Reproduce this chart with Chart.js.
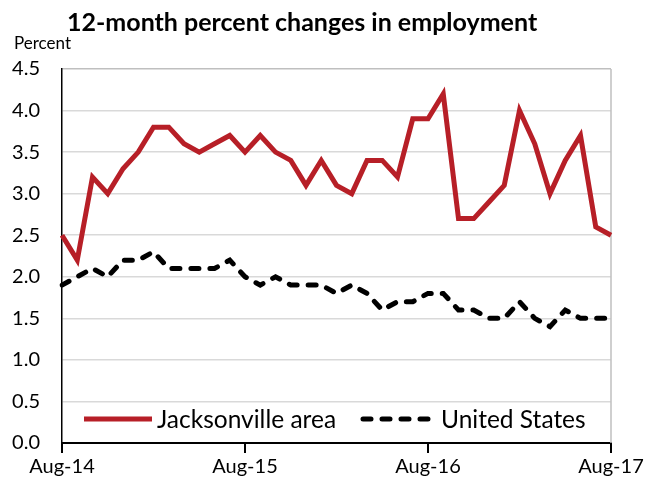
<!DOCTYPE html>
<html>
<head>
<meta charset="utf-8">
<script src="https://cdn.jsdelivr.net/npm/chart.js@4"></script>
<style>
    html, body { margin: 0; padding: 0; background: #fff; }
    #wrap { width: 647px; height: 479px; }
</style>
</head>
<body>
<div id="wrap"><canvas id="empChart" width="647" height="479"></canvas></div>
<script>
const months = [
    'Aug-14', 'Sep-14', 'Oct-14', 'Nov-14', 'Dec-14',
    'Jan-15', 'Feb-15', 'Mar-15', 'Apr-15', 'May-15', 'Jun-15', 'Jul-15', 'Aug-15', 'Sep-15', 'Oct-15', 'Nov-15', 'Dec-15',
    'Jan-16', 'Feb-16', 'Mar-16', 'Apr-16', 'May-16', 'Jun-16', 'Jul-16', 'Aug-16', 'Sep-16', 'Oct-16', 'Nov-16', 'Dec-16',
    'Jan-17', 'Feb-17', 'Mar-17', 'Apr-17', 'May-17', 'Jun-17', 'Jul-17', 'Aug-17'
];
const jacksonville = [
    2.5, 2.2, 3.2, 3.0, 3.3,
    3.5, 3.8, 3.8, 3.6, 3.5, 3.6, 3.7, 3.5, 3.7, 3.5, 3.4, 3.1,
    3.4, 3.1, 3.0, 3.4, 3.4, 3.2, 3.9, 3.9, 4.2, 2.7, 2.7, 2.9,
    3.1, 4.0, 3.6, 3.0, 3.4, 3.7, 2.6, 2.5
];
const unitedStates = [
    1.9, 2.0, 2.1, 2.0, 2.2,
    2.2, 2.3, 2.1, 2.1, 2.1, 2.1, 2.2, 2.0, 1.9, 2.0, 1.9, 1.9,
    1.9, 1.8, 1.9, 1.8, 1.6, 1.7, 1.7, 1.8, 1.8, 1.6, 1.6, 1.5,
    1.5, 1.7, 1.5, 1.4, 1.6, 1.5, 1.5, 1.5
];
const yTicks = [0, 0.5, 1.0, 1.5, 2.0, 2.5, 3.0, 3.5, 4.0, 4.5];

const FONT = 'Lato, "Open Sans", sans-serif';
const RED = '#b71f27';

// title, "Percent" label, right border and the in-plot legend
const decor = {
    id: 'decor',
    beforeDatasetsDraw(chart) {
        const { ctx, chartArea } = chart;
        ctx.save();
        ctx.strokeStyle = '#bfbfbf';
        ctx.lineWidth = 1.5;
        ctx.beginPath();
        ctx.moveTo(chartArea.right, chartArea.top);
        ctx.lineTo(chartArea.right, chartArea.bottom);
        ctx.stroke();
        ctx.restore();
    },
    afterDraw(chart) {
        const { ctx, chartArea } = chart;
        ctx.save();
        ctx.fillStyle = '#000';
        ctx.textBaseline = 'alphabetic';
        ctx.textAlign = 'left';
        ctx.font = 'bold 25px ' + FONT;
        ctx.fillText('12-month percent changes in employment', 67, 31);
        ctx.font = '17px ' + FONT;
        ctx.fillText('Percent', 14, 49);

        // legend
        const y = chartArea.bottom - 24;
        const items = [
            { ds: chart.data.datasets[0], x0: 84, x1: 152, tx: 157 },
            { ds: chart.data.datasets[1], x0: 363, x1: 433, tx: 441 }
        ];
        ctx.font = '24.5px ' + FONT;
        ctx.textBaseline = 'middle';
        items.forEach(it => {
            ctx.strokeStyle = it.ds.borderColor;
            ctx.lineWidth = it.ds.borderWidth;
            ctx.lineCap = it.ds.borderCapStyle || 'butt';
            ctx.setLineDash(it.ds.borderDash || []);
            ctx.beginPath();
            ctx.moveTo(it.x0, y);
            ctx.lineTo(it.x1, y);
            ctx.stroke();
            ctx.setLineDash([]);
            ctx.fillText(it.ds.label, it.tx, y + 1);
        });
        ctx.restore();
    }
};

new Chart(document.getElementById('empChart'), {
    type: 'line',
    data: {
        labels: months,
        datasets: [{
            label: 'Jacksonville area',
            data: jacksonville,
            borderColor: RED,
            borderWidth: 5,
            borderCapStyle: 'butt',
            pointRadius: 0,
            tension: 0
        }, {
            label: 'United States',
            data: unitedStates,
            borderColor: '#000',
            borderWidth: 5,
            borderDash: [8, 11],
            borderCapStyle: 'round',
            pointRadius: 0,
            tension: 0
        }]
    },
    options: {
        responsive: false,
        animation: false,
        layout: { padding: { top: 69, right: 36, left: 0, bottom: 0 } },
        plugins: {
            legend: { display: false },
            tooltip: { enabled: false }
        },
        scales: {
            x: {
                offset: false,
                afterFit: s => { s.height = 36; },
                border: { display: true, color: '#000', width: 2 },
                grid: {
                    drawOnChartArea: false,
                    drawTicks: true,
                    tickLength: 10,
                    lineWidth: 2,
                    tickColor: c => (months[c.index] || '').startsWith('Aug') ? '#000' : 'rgba(0,0,0,0)'
                },
                ticks: {
                    autoSkip: false,
                    maxRotation: 0,
                    padding: 2,
                    color: '#000',
                    font: { family: FONT, size: 20 },
                    callback: (v, i) => months[i].startsWith('Aug') ? months[i] : ''
                }
            },
            y: {
                min: 0,
                max: 4.5,
                afterFit: s => { s.width = 62; },
                afterBuildTicks: s => { s.ticks = yTicks.map(v => ({ value: v })); },
                border: { display: true, color: '#000', width: 1.5 },
                grid: {
                    drawTicks: false,
                    lineWidth: 1.5,
                    color: c => c.tick && c.tick.value === 4.5 ? '#bfbfbf' : '#d9d9d9'
                },
                ticks: {
                    padding: 22,
                    color: '#000',
                    font: { family: FONT, size: 20 },
                    callback: v => Number(v).toFixed(1)
                }
            }
        }
    },
    plugins: [decor]
});
</script>
</body>
</html>
